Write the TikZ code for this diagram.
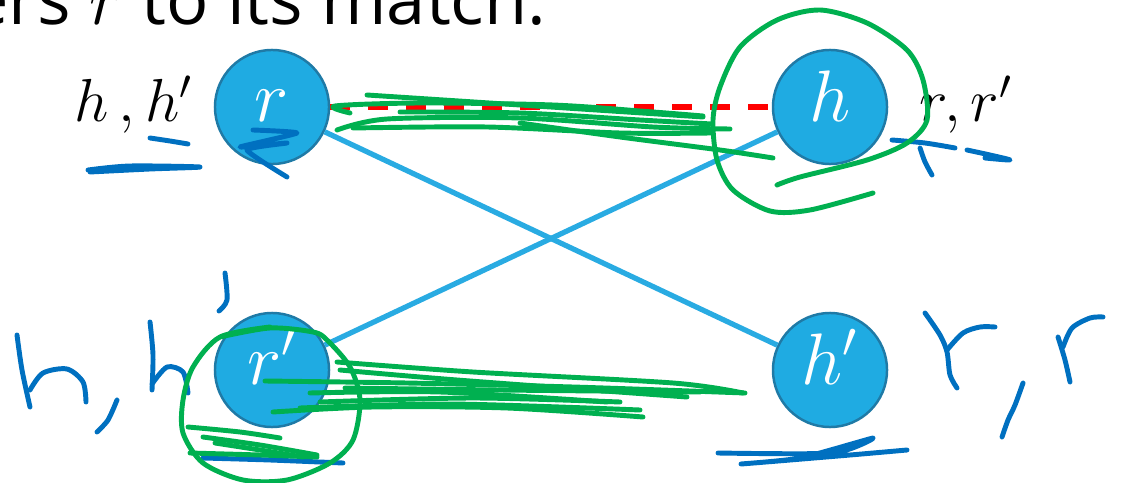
\documentclass[tikz,border=0pt]{standalone}
\usepackage{fontspec}
\setmainfont{Open Sans}
\usetikzlibrary{positioning}
\definecolor{nodefill}{HTML}{1FABE2}
\definecolor{nodeline}{HTML}{1F7AA6}
\definecolor{linkblue}{HTML}{29ABE2}
\definecolor{inkblue}{HTML}{0070C0}
\definecolor{inkgreen}{HTML}{00B050}
\begin{document}
\begin{tikzpicture}[x=0.01cm,y=-0.01cm,
    ent/.style={circle,draw=nodeline,fill=nodefill,line width=0.7pt,minimum size=1.14cm,inner sep=0pt,
      text=white,font=\fontsize{20}{22}\selectfont,text height=12pt,text depth=4pt},
    lbl/.style={inner sep=0pt,font=\fontsize{18.5}{22}\selectfont,text height=12pt,text depth=4pt},
    link/.style={draw=linkblue,line width=1.5pt},
    ink/.style={line width=1.4pt,line cap=round,line join=round}]
  \useasboundingbox (0,0) rectangle (1140,482);
  \node[anchor=base east,inner sep=0pt,font=\fontsize{20}{24}\selectfont] (title) at (547,25) {ers $r$ to its match.};
  % entities
  \node[ent] (r) at (272,107) {$r$};
  \node[ent] (h) at (830,107) {$h$};
  \node[ent] (rp) at (272,370) {$r'$};
  \node[ent] (hp) at (830,370) {$h'$};
  \node[lbl,left=0.2cm of r] (lr) {$h\,,h'$};
  \node[lbl,right=0.3cm of h] (lh) {$r,r'$};
  % links
  \draw[link] (r) -- (hp);
  \draw[link] (rp) -- (h);
  \draw[red,line width=1.6pt,dash pattern=on 5.7pt off 5.1pt] (r) -- (h);
  % blue ink
  \draw[ink,inkblue] plot[smooth] coordinates {(88,170) (130,166) (200,167) (150,169) (90,172)};
  \draw[ink,inkblue] plot[smooth] coordinates {(150,138) (170,141) (188,144)};
  \draw[ink,inkblue] plot[smooth,tension=0.3] coordinates {(253,130) (297,133) (240,147) (287,143) (247,150) (287,177)};
  \draw[ink,inkblue] plot[smooth] coordinates {(892,140) (925,143) (955,148)};
  \draw[ink,inkblue] plot[smooth] coordinates {(920,148) (925,162) (932,175)};
  \draw[ink,inkblue] plot[smooth] coordinates {(967,150) (990,155) (1010,160) (985,158)};
  \draw[ink,inkblue] plot[smooth] coordinates {(17,335) (22,370) (30,407)};
  \draw[ink,inkblue] plot[smooth] coordinates {(30,390) (43,373) (67,369) (83,382) (86,402)};
  \draw[ink,inkblue] plot[smooth] coordinates {(117,400) (108,420) (97,432)};
  \draw[ink,inkblue] plot[smooth] coordinates {(150,322) (153,355) (152,390)};
  \draw[ink,inkblue] plot[smooth] coordinates {(152,384) (167,367) (183,372) (188,393)};
  \draw[ink,inkblue] plot[smooth] coordinates {(225,273) (227,300) (219,311)};
  \draw[ink,inkblue] plot[smooth] coordinates {(203,458) (270,460) (343,463)};
  \draw[ink,inkblue] plot[smooth] coordinates {(925,313) (940,335) (947,352) (950,375) (957,388)};
  \draw[ink,inkblue] plot[smooth] coordinates {(947,350) (963,333) (980,327) (995,327)};
  \draw[ink,inkblue] plot[smooth] coordinates {(1023,383) (1015,405) (1008,420) (1002,437)};
  \draw[ink,inkblue] plot[smooth] coordinates {(1058,337) (1065,360) (1070,382)};
  \draw[ink,inkblue] plot[smooth] coordinates {(1063,347) (1072,328) (1090,318) (1103,317)};
  \draw[ink,inkblue] plot[smooth,tension=0.4] coordinates {(718,453) (833,453) (873,438) (800,458) (741,464) (850,455) (907,450)};
  % green ink
  \draw[ink,inkgreen] plot[smooth] coordinates {(367,95) (520,105) (703,117)};
  \draw[ink,inkgreen] plot[smooth] coordinates {(350,113) (335,106) (420,103) (553,105) (653,112) (703,116)};
  \draw[ink,inkgreen] plot[smooth] coordinates {(337,130) (387,119) (520,118) (653,127) (730,129)};
  \draw[ink,inkgreen] plot[smooth] coordinates {(353,128) (487,127) (620,133) (710,133)};
  \draw[ink,inkgreen] plot[smooth] coordinates {(400,112) (520,113) (640,120) (712,124)};
  \draw[ink,inkgreen] plot[smooth] coordinates {(520,123) (620,137) (720,150) (773,158)};
  \draw[ink,inkgreen] plot[smooth] coordinates {(777,185) (800,177) (867,160) (907,143) (927,120) (923,80) (907,50) (867,23) (820,10) (777,20) (740,47) (720,87) (713,120) (717,160) (733,190) (770,211) (810,210) (873,193)};
  \draw[ink,inkgreen] plot[smooth] coordinates {(265,381) (407,383) (573,387) (745,393)};
  \draw[ink,inkgreen] plot[smooth] coordinates {(337,362) (473,372) (673,383) (743,393)};
  \draw[ink,inkgreen] plot[smooth] coordinates {(273,412) (373,407) (507,408) (643,417)};
  \draw[ink,inkgreen] plot[smooth] coordinates {(310,393) (440,392) (607,402)};
  \draw[ink,inkgreen] plot[smooth] coordinates {(320,402) (473,398) (620,402)};
  \draw[ink,inkgreen] plot[smooth] coordinates {(340,370) (457,380) (687,397)};
  \draw[ink,inkgreen] plot[smooth] coordinates {(345,388) (500,390) (700,392)};
  \draw[ink,inkgreen] plot[smooth] coordinates {(300,408) (450,404) (640,410)};
  \draw[ink,inkgreen] plot[smooth] coordinates {(220,337) (270,328) (313,332) (327,340) (350,367) (360,400) (353,440) (330,463) (287,480) (243,480) (203,463) (183,433) (183,400) (193,367) (220,337) (270,327)};
  \draw[ink,inkgreen] plot[smooth] coordinates {(188,427) (240,432) (280,438)};
  \draw[ink,inkgreen] plot[smooth] coordinates {(203,437) (260,445) (317,455)};
  \draw[ink,inkgreen] plot[smooth] coordinates {(215,443) (260,450) (303,457)};
  \draw[ink,inkgreen] plot[smooth] coordinates {(190,453) (260,455) (317,457)};
\end{tikzpicture}
\end{document}
